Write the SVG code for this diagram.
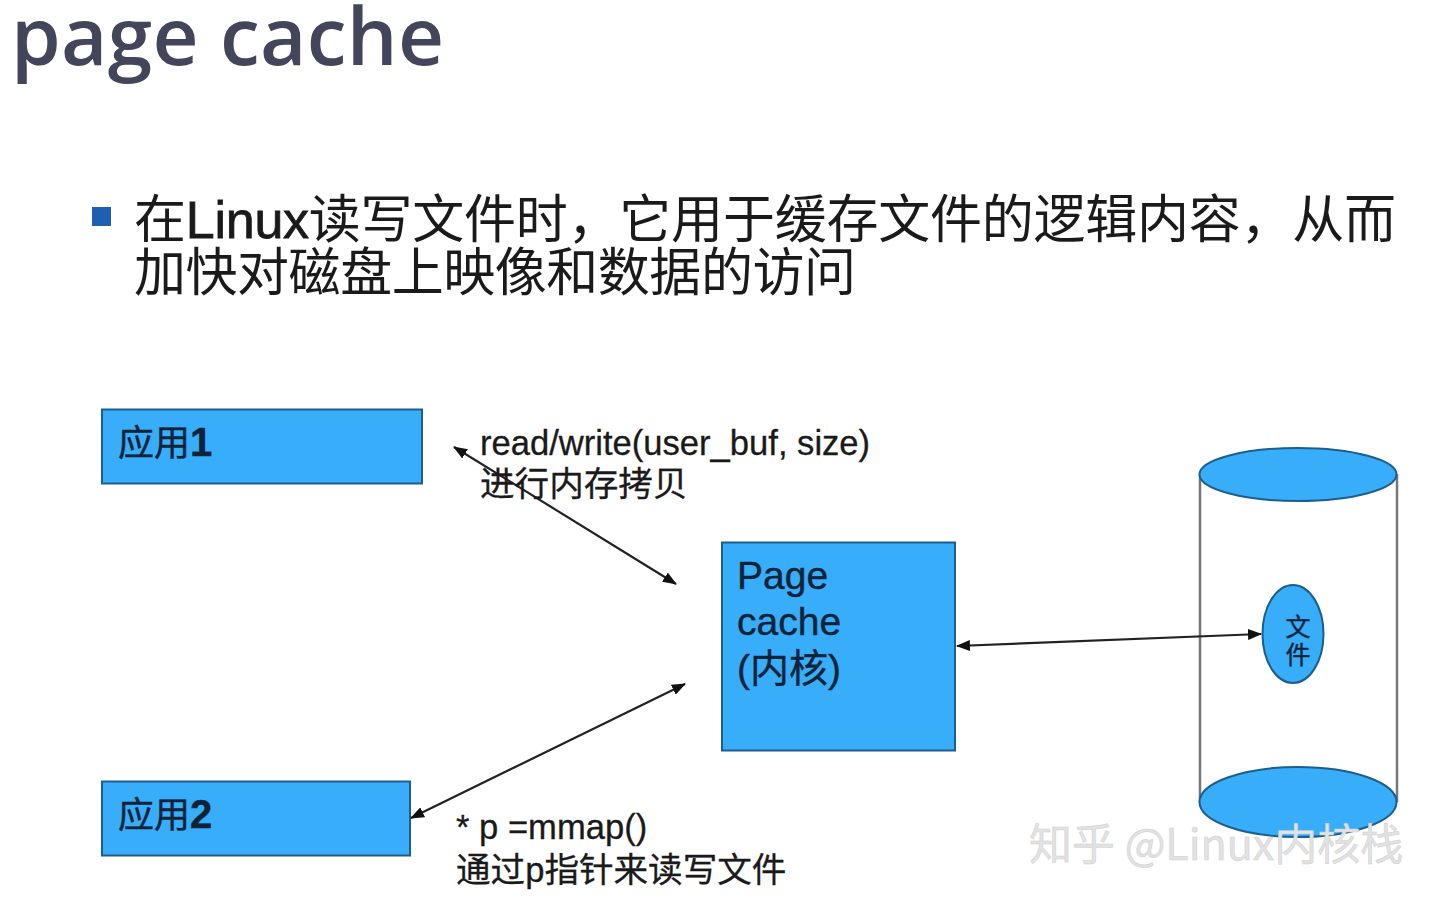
<svg xmlns="http://www.w3.org/2000/svg" width="1440" height="904" viewBox="0 0 1440 904">
<style>
.n{fill:#38adfa;stroke:#1c5f8c;stroke-width:2}
.c{stroke:#222;stroke-width:2.200;fill:none;marker-start:url(#a);marker-end:url(#a)}
.s{font-family:"Liberation Sans","Noto Sans CJK SC",sans-serif;fill:#1a1a1a;font-size:34.600px;stroke:#1a1a1a;stroke-width:.3}
.z{font-family:"Liberation Sans","Noto Sans CJK SC",sans-serif;fill:#0f2338;stroke:#0f2338;stroke-width:.4}
.d{font-size:40px;font-weight:700}
.b{font-family:"Liberation Serif","Noto Sans CJK SC",sans-serif;fill:#1a1a1a;font-size:52px}
.l{font-family:"Liberation Sans",sans-serif;stroke:#1a1a1a;stroke-width:.8}
</style>
<defs><marker id="a" viewBox="0 0 14 11" refX="13" refY="5.500" markerWidth="14" markerHeight="11" markerUnits="userSpaceOnUse" orient="auto-start-reverse"><path d="M0 0L14 5.500L0 11Z" fill="#111"/></marker></defs>
<rect width="1440" height="904" fill="#fff"/>
<text x="11" y="65" font-family="Open Sans,sans-serif" font-size="80" font-weight="600" fill="#43455a" textLength="433" lengthAdjust="spacing">page cache</text>
<rect x="92" y="207" width="19" height="19" fill="#1f5fb0"/>
<text class="b" x="134" y="238" textLength="1262" lengthAdjust="spacing">在<tspan class="l">Linux</tspan>读写文件时，它用于缓存文件的逻辑内容，从而</text>
<text class="b" x="134" y="291" textLength="722" lengthAdjust="spacing">加快对磁盘上映像和数据的访问</text>
<g id="app1"><rect class="n" x="102" y="409.500" width="320" height="74"/><text class="z" x="118" y="456" font-size="36">应用<tspan class="d">1</tspan></text></g>
<g id="app2"><rect class="n" x="102" y="781.500" width="308" height="74"/><text class="z" x="118" y="828" font-size="36">应用<tspan class="d">2</tspan></text></g>
<g id="pagecache"><rect class="n" x="722" y="542.500" width="233" height="208"/><text class="z" font-size="39"><tspan x="737" y="589">Page</tspan><tspan x="737" y="635">cache</tspan><tspan x="737" y="682">(内核)</tspan></text></g>
<g id="disk">
<path d="M1200 474V802M1397 474V802" stroke="#777" stroke-width="2.500" fill="none"/>
<ellipse class="n" cx="1298" cy="474.500" rx="98.500" ry="26.500"/>
<ellipse class="n" cx="1298" cy="802" rx="98.500" ry="35"/>
</g>
<g id="file"><ellipse class="n" cx="1293" cy="634" rx="30.500" ry="49"/><text class="z" x="1298" y="636" font-size="25" text-anchor="middle">文</text><text class="z" x="1298" y="664" font-size="25" text-anchor="middle">件</text></g>
<g id="connectors">
<path class="c" d="M454 447L676 584"/>
<path class="c" d="M411 818L685 684"/>
<path class="c" d="M957 646L1261 634"/>
</g>
<g id="labels">
<text class="s" x="480" y="455">read/write(user_buf, size)</text>
<text class="s" x="480" y="496">进行内存拷贝</text>
<text class="s" x="456" y="839">* p =mmap()</text>
<text class="s" x="456" y="882">通过p指针来读写文件</text>
</g>
<text x="1029" y="860" font-family="Noto Sans CJK SC,sans-serif" font-size="43" fill="#e2e2e2" stroke="#cfcfcf" stroke-width=".5">知乎 @Linux内核栈</text>
</svg>
